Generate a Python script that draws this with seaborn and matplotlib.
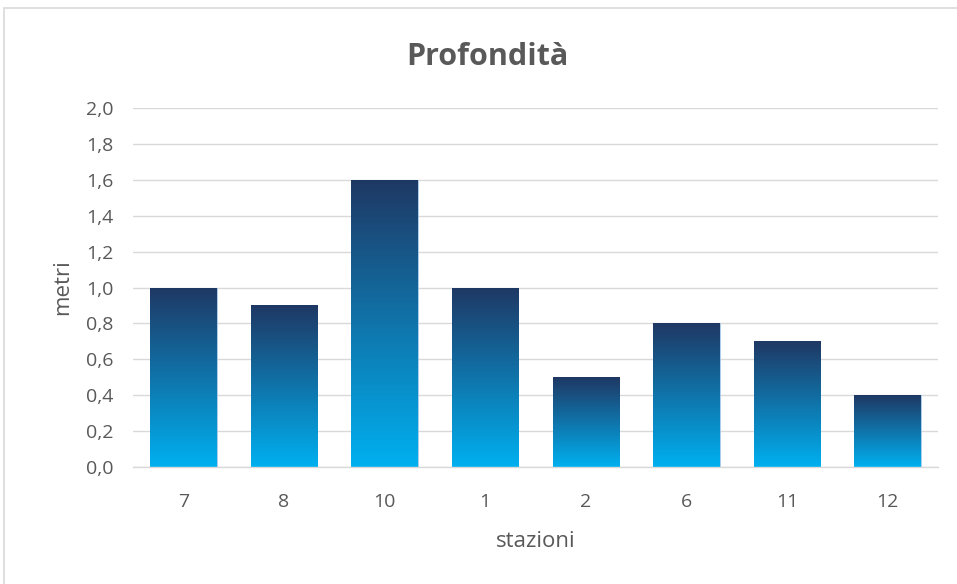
import numpy as np
import pandas as pd
import matplotlib
matplotlib.use("Agg")
import matplotlib.pyplot as plt
from matplotlib.colors import LinearSegmentedColormap
from matplotlib.patches import Rectangle
from matplotlib.ticker import FuncFormatter, MultipleLocator
import seaborn as sns

stazioni = ["7", "8", "10", "1", "2", "6", "11", "12"]
profondita = [1.0, 0.9, 1.6, 1.0, 0.5, 0.8, 0.7, 0.4]

titolo = "Profondità"
etichetta_x = "stazioni"
etichetta_y = "metri"

sns.set_theme(style="white")
plt.rcParams["font.family"] = ["Open Sans", "DejaVu Sans"]

grigio = "#595959"
df = pd.DataFrame({"stazione": stazioni, "metri": profondita})

fig = plt.figure(figsize=(9.57, 5.84), dpi=100)
ax = fig.add_axes([0.139, 0.2003, 0.841, 0.6147])

sns.barplot(data=df, x="stazione", y="metri", order=stazioni, width=0.66,
            color="#1470A0", ax=ax, zorder=2)

ax.set_ylim(0, 2.0)
ax.yaxis.set_major_locator(MultipleLocator(0.2))
ax.yaxis.set_major_formatter(FuncFormatter(lambda v, p: f"{v:.1f}".replace(".", ",")))
ax.grid(axis="y", color="#D9D9D9", linewidth=1.0, zorder=0)
ax.set_axisbelow(True)
for s in ["top", "right", "left"]:
    ax.spines[s].set_visible(False)
ax.spines["bottom"].set_color("#D9D9D9")
ax.spines["bottom"].set_linewidth(1.0)
ax.tick_params(axis="both", length=0, labelsize=14, colors=grigio)
ax.tick_params(axis="x", pad=19)
ax.tick_params(axis="y", pad=14)
ax.set_xlabel(etichetta_x, fontsize=16, color=grigio, labelpad=14)
ax.set_ylabel(etichetta_y, fontsize=16, color=grigio, labelpad=9)
fig.text(487 / 957, 1 - 57 / 584, titolo, fontsize=22, fontweight="bold",
         color=grigio, ha="center", va="center")

# vertical gradient fill for each bar, dark at the top, cyan at the base
cmap = LinearSegmentedColormap.from_list("prof", ["#00B0F0", "#1F3864"])
grad = np.linspace(0, 1, 256).reshape(-1, 1)
for bar in ax.patches:
    x0, y0 = bar.get_x(), bar.get_y()
    w, h = bar.get_width(), bar.get_height()
    bar.set_facecolor("none")
    bar.set_edgecolor("#9DC3E6")
    bar.set_linewidth(0.6)
    im = ax.imshow(grad, cmap=cmap, origin="lower", aspect="auto",
                   extent=(x0, x0 + w, y0, y0 + h), zorder=2)
    im.set_clip_path(bar)
ax.set_xlim(-0.5, len(stazioni) - 0.5)
ax.set_ylim(0, 2.0)

# chart frame
fig.patches.append(Rectangle((4 / 957, -0.05), 1.2, 1 - 8 / 584 + 0.05,
                             transform=fig.transFigure, fill=False,
                             edgecolor="#D9D9D9", linewidth=1.2))

fig.savefig("out.png", dpi=100)
